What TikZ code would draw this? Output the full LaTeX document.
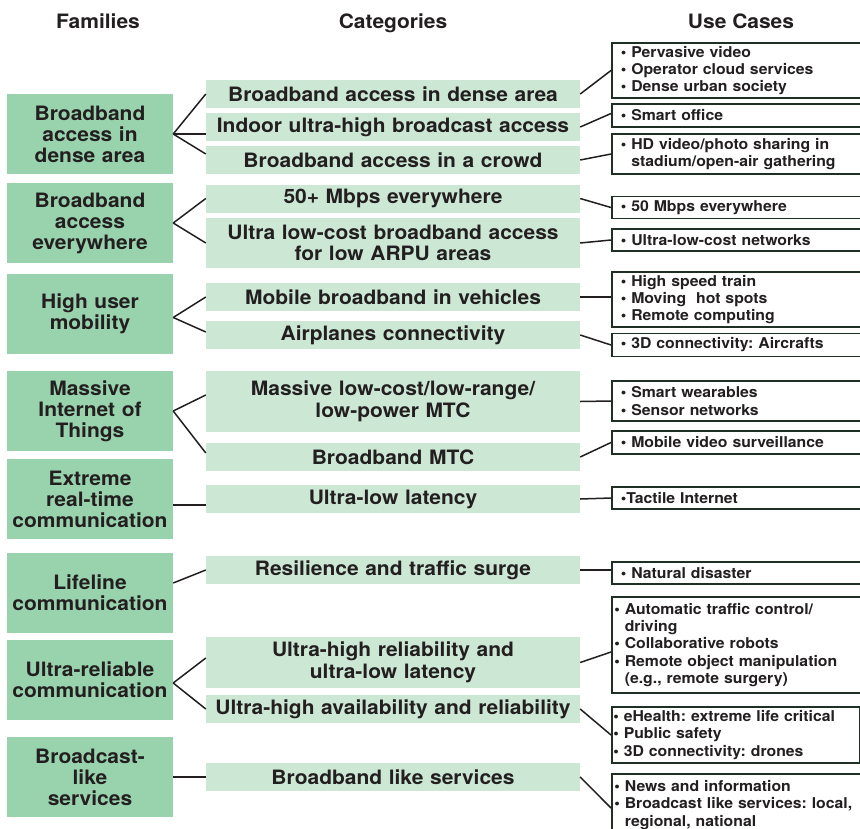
\documentclass[tikz,border=0pt]{standalone}
\usepackage{fontspec}
\setmainfont[FakeStretch=1.06]{TeX Gyre Heros}
\definecolor{famfill}{HTML}{99D3AD}
\definecolor{catfill}{HTML}{CCE8D5}
\definecolor{ink}{HTML}{231F20}
\definecolor{ucline}{HTML}{1E3024}
\newcommand{\ind}{\phantom{\textbullet\ }}
\frenchspacing
\begin{document}
\begin{tikzpicture}[x=1pt,y=-1pt,
  fam/.style={fill=famfill, minimum width=166pt, minimum height=80pt, text width=164pt,
    align=center, inner sep=0pt, text=ink, font=\bfseries\fontsize{19.8}{21}\selectfont},
  cat/.style={fill=catfill, minimum width=374pt, minimum height=28pt, text width=372pt,
    align=center, inner sep=0pt, text=ink, font=\bfseries\fontsize{19.8}{21.5}\selectfont},
  uc/.style={draw=ucline, line width=1.6pt, fill=white, text width=245pt, inner xsep=9pt,
    inner ysep=0pt, minimum height=22pt, align=left, anchor=west, text=ink,
    font=\bfseries\fontsize{14.9}{17.2}\selectfont},
  head/.style={text=ink, inner sep=0pt, anchor=base, font=\bfseries\fontsize{19.8}{22}\selectfont},
  link/.style={draw=ink, line width=1.5pt}
]
\useasboundingbox (0,0) rectangle (860,828);
\clip (0,0) rectangle (860,828);

% column headings
\node[head] (hfam) at (98,28) {Families};
\node[head] (hcat) at (393,28) {Categories};
\node[head] (huc) at (741,28) {Use Cases};

% families
\node[fam] (f1) at (90,134) {Broadband\\access in\\dense area};
\node[fam] (f2) at (90,223) {Broadband\\access\\everywhere};
\node[fam] (f3) at (90,313.5) {High user\\mobility};
\node[fam] (f4) at (90,411) {Massive\\Internet of\\Things};
\node[fam] (f5) at (90,499) {Extreme\\real-time\\communication};
\node[fam] (f6) at (90,593) {Lifeline\\communication};
\node[fam] (f7) at (90,679.5) {Ultra-reliable\\communication};
\node[fam] (f8) at (90,777) {Broadcast-\\like\\services};

% categories
\node[cat] (c1) at (393,94) {Broadband access in dense area};
\node[cat] (c2) at (393,127) {Indoor ultra-high broadcast access};
\node[cat] (c3) at (393,160) {Broadband access in a crowd};
\node[cat] (c4) at (393,198.5) {50+ Mbps everywhere};
\node[cat, minimum height=50pt] (c5) at (393,243) {Ultra low-cost broadband access\\for low ARPU areas};
\node[cat] (c6) at (393,297) {Mobile broadband in vehicles};
\node[cat] (c7) at (393,335) {Airplanes connectivity};
\node[cat, minimum height=61pt] (c8) at (393,401.5) {Massive low-cost/low-range/\\low-power MTC};
\node[cat] (c9) at (393,457) {Broadband MTC};
\node[cat] (c10) at (393,499) {Ultra-low latency};
\node[cat] (c11) at (393,570) {Resilience and traffic surge};
\node[cat, minimum height=51pt] (c12) at (393,662.5) {Ultra-high reliability and\\ultra-low latency};
\node[cat] (c13) at (393,709) {Ultra-high availability and reliability};
\node[cat] (c14) at (393,777) {Broadband like services};

% use cases
\node[uc, minimum height=55pt] (u1) at (611,70.5) {\textbullet\ Pervasive video\\\textbullet\ Operator cloud services\\\textbullet\ Dense urban society};
\node[uc, minimum height=23pt] (u2) at (611,115.5) {\textbullet\ Smart office};
\node[uc, minimum height=40pt] (u3) at (611,154) {\textbullet\ HD video/photo sharing in\\\ind stadium/open-air gathering};
\node[uc] (u4) at (611,207.5) {\textbullet\ 50 Mbps everywhere};
\node[uc] (u5) at (611,240) {\textbullet\ Ultra-low-cost networks};
\node[uc, minimum height=55pt] (u6) at (611,299.5) {\textbullet\ High speed train\\\textbullet\ Moving\ \ hot spots\\\textbullet\ Remote computing};
\node[uc, minimum height=23pt] (u7) at (611,345) {\textbullet\ 3D connectivity: Aircrafts};
\node[uc, minimum height=40pt] (u8) at (611,401) {\textbullet\ Smart wearables\\\textbullet\ Sensor networks};
\node[uc, minimum height=23pt] (u9) at (611,442.5) {\textbullet\ Mobile video surveillance};
\node[uc] (u10) at (611,498) {\textbullet Tactile Internet};
\node[uc] (u11) at (611,573) {\textbullet\ Natural disaster};
\node[uc, minimum height=96pt, inner xsep=2.5pt] (u12) at (611,645) {\textbullet\ Automatic traffic control/\\\ind driving\\\textbullet\ Collaborative robots\\\textbullet\ Remote object manipulation\\\ind (e.g., remote surgery)};
\node[uc, minimum height=56pt, inner xsep=1.5pt] (u13) at (611,735) {\textbullet\ eHealth: extreme life critical\\\textbullet\ Public safety\\\textbullet\ 3D connectivity: drones};
\node[uc, minimum height=62pt, inner xsep=2.5pt] (u14) at (611,805) {\textbullet\ News and information\\\textbullet\ Broadcast like services: local,\\\ind regional, national};

% families to categories
\draw[link] (f1.east) -- (c1.west);
\draw[link] (f1.east) -- (c2.west |- f1.east);
\draw[link] (f1.east) -- ([yshift=6pt]c3.west);
\draw[link] (f2.east) -- (c4.west);
\draw[link] (f2.east) -- (c5.west);
\draw[link] ([yshift=-4pt]f3.east) -- (c6.west);
\draw[link] ([yshift=-4pt]f3.east) -- ([yshift=3pt]c7.west);
\draw[link] (f4.east) -- ([yshift=6.5pt]c8.west);
\draw[link] (f4.east) -- ([yshift=4pt]c9.west);
\draw[link] ([yshift=-6pt]f5.east) -- ([yshift=-6pt]c10.west);
\draw[link] ([yshift=10pt]f6.east) -- (c11.west);
\draw[link] ([yshift=-3.5pt]f7.east) -- ([yshift=4.5pt]c12.west);
\draw[link] ([yshift=-3.5pt]f7.east) -- (c13.west);
\draw[link] (f8.east) -- (c14.west);

% categories to use cases
\draw[link] (c1.east) -- (u1.west);
\draw[link] (c2.east) -- ([yshift=2pt]u2.west);
\draw[link] (c3.east) -- (u3.west);
\draw[link] (c4.east) -- (u4.west);
\draw[link] (c5.east) -- (u5.west);
\draw[link] (c6.east) -- (c6.east -| u6.west);
\draw[link] (c7.east) -- (u7.west);
\draw[link] (c8.east) -- (u8.west);
\draw[link] (c9.east) -- (u9.west);
\draw[link] (c10.east) -- (u10.west);
\draw[link] (c11.east) -- (c11.east -| u11.west);
\draw[link] (c12.east) -- ([yshift=-7pt]u12.west);
\draw[link] (c13.east) -- (u13.west);
\draw[link] (c14.east) -- ([yshift=-3pt]u14.west);
\end{tikzpicture}
\end{document}
